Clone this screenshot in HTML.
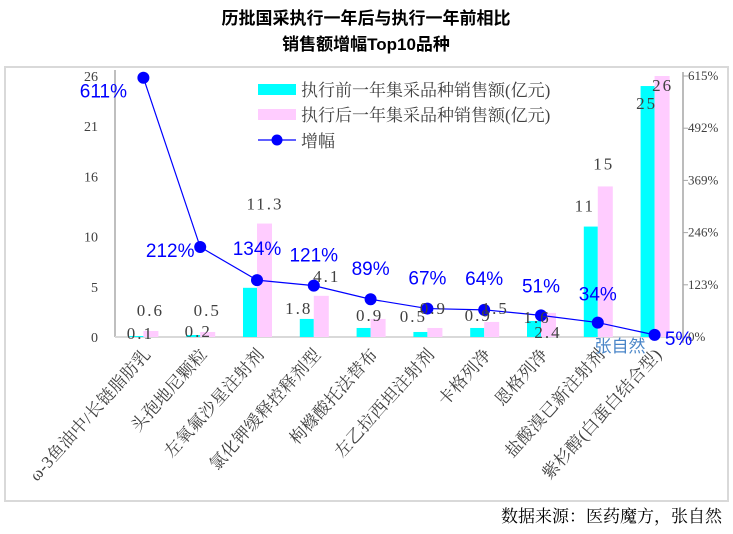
<!DOCTYPE html>
<html><head><meta charset="utf-8"><style>
body{margin:0;background:#fff;}
svg{display:block;}
.serif{font-family:"Liberation Serif","Noto Serif CJK SC",serif;}
.sans{font-family:"Liberation Sans","Noto Sans CJK SC",sans-serif;}
</style></head><body>
<svg id="chart" width="733" height="534" viewBox="0 0 733 534">
<rect x="5" y="67" width="723" height="434" fill="#fff" stroke="#d9d9d9" stroke-width="2"/>
<text x="366" y="24" text-anchor="middle" class="sans" font-size="17" font-weight="bold" fill="#000">历批国采执行一年后与执行一年前相比</text>
<text x="366" y="50" text-anchor="middle" class="sans" font-size="17" font-weight="bold" fill="#000">销售额增幅Top10品种</text>
<g id="axes"></g>
<g id="bars"></g>
<g id="line"></g>
<g id="labels"></g>
<g>
<rect x="258" y="84" width="38" height="11" fill="#00ffff"/>
<text x="301" y="96" class="serif" font-size="17" fill="#404040">执行前一年集采品种销售额(亿元)</text>
<rect x="258" y="109" width="38" height="11" fill="#ffccff"/>
<text x="301" y="121" class="serif" font-size="17" fill="#404040">执行后一年集采品种销售额(亿元)</text>
<line x1="258" y1="140" x2="296" y2="140" stroke="#0000ff" stroke-width="1.2"/>
<circle cx="277" cy="140" r="5.5" fill="#0000ff"/>
<text x="301" y="147" class="serif" font-size="17" fill="#404040">增幅</text>
</g>
<text x="620" y="352" text-anchor="middle" class="sans" font-size="17" fill="#4a86c8">张自然</text>
<text x="722" y="522" text-anchor="end" class="serif" font-size="17" fill="#000">数据来源：医药魔方，张自然</text>
</svg>
<script>
const categories=["ω-3鱼油中/长链脂肪乳","头孢地尼颗粒","左氧氟沙星注射剂","氯化钾缓释控释剂型","枸橼酸托法替布","左乙拉西坦注射剂","卡格列净","恩格列净","盐酸溴已新注射剂","紫杉醇(白蛋白结合型)"];
const beforeValues=[0.1,0.2,4.9,1.8,0.9,0.5,0.9,1.6,11,25];
const afterValues=[0.6,0.5,11.3,4.1,1.8,0.9,1.5,2.4,15,26];
const growthValues=[611,212,134,121,89,67,64,51,34,5];
const leftTicks=[0,5,10,16,21,26];
const rightTicks=[0,123,246,369,492,615];
const beforeLabels=["0.1","0.2","","1.8","0.9","0.5","0.9","1.6","11","25"];
const afterLabels=["0.6","0.5","11.3","4.1","","0.9","1.5","2.4","15","26"];
const growthLabels=["611%","212%","134%","121%","89%","67%","64%","51%","34%","5%"];
// layout offsets (pixels) for labels
const beforeOff=[[4,9],[5,8],[0,0],[-8,1],[6,-1],[-7,-4],[1,-1],[3,8],[-6,-9],[-1,29]];
const afterOff=[[-1,-9],[-1,-10],[0,-8],[5,-8],[0,0],[-2,-8],[3,-2],[-1,31],[-2,-11],[0,21]];
const growthOff=[[-40,20],[-30,10],[0,-25],[0,-24],[0,-24],[0,-24],[0,-25],[0,-23],[0,-22],[24,10]];

const NS="http://www.w3.org/2000/svg";
const X0=115,X1=683,Y0=337,Y1=76;
const band=(X1-X0)/categories.length;
const xc=i=>X0+band*(i+0.5);
const yL=v=>Y0-(v/26)*(Y0-Y1);
const yR=v=>Y0-(v/615)*(Y0-Y1);
function mk(tag,attrs,parent){const e=document.createElementNS(NS,tag);for(const k in attrs)e.setAttribute(k,attrs[k]);parent.appendChild(e);return e;}
const axes=document.getElementById('axes'),bars=document.getElementById('bars'),line=document.getElementById('line'),labels=document.getElementById('labels');
let e=mk('line',{x1:X0,y1:Y1-6,x2:X0,y2:Y0,stroke:'#bfbfbf','stroke-width':2},axes);


e=mk('line',{x1:X0,y1:Y0,x2:X1,y2:Y0,stroke:'#d9d9d9','stroke-width':2},axes);


e=mk('line',{x1:X1,y1:Y1-4,x2:X1,y2:Y0+6,stroke:'#a6a6a6','stroke-width':1.5},axes);


leftTicks.forEach(t=>{
  const tx=mk('text',{x:98,y:yL(t)+5,'text-anchor':'end','font-size':14,fill:'#404040',class:'serif'},axes);
  tx.textContent=t;
  
  
});
rightTicks.forEach(t=>{
  const tk=mk('line',{x1:X1,y1:yR(t),x2:X1+5,y2:yR(t),stroke:'#a6a6a6'},axes);
  
  
  const tx=mk('text',{x:X1+5,y:yR(t)+4,'font-size':13,fill:'#404040',class:'serif'},axes);
  tx.textContent=t+'%';
  
  
});
categories.forEach((c,i)=>{
  const x=xc(i);
  const b=mk('rect',{x:x-14,y:yL(beforeValues[i]),width:14,height:Y0-yL(beforeValues[i]),fill:'#00ffff'},bars);
  
  
  const a=mk('rect',{x:x,y:yL(afterValues[i]),width:15,height:Y0-yL(afterValues[i]),fill:'#ffccff'},bars);
  
  
  const t=mk('text',{x:0,y:0,'text-anchor':'end','font-size':17,'letter-spacing':0.4,fill:'#404040',class:'serif',transform:`translate(${x+8},${Y0+18}) rotate(-48)`},labels);
  t.textContent=c;
  
  
});
const pts=growthValues.map((g,i)=>[xc(i),yR(g)]);
const pl=mk('polyline',{points:pts.map(p=>p.join(',')).join(' '),fill:'none',stroke:'#0000ff','stroke-width':1.2},line);


pts.forEach((p,i)=>{
  const c=mk('circle',{cx:p[0],cy:p[1],r:6,fill:'#0000ff'},line);
  
  
});
categories.forEach((c,i)=>{
  const x=xc(i);
  if(beforeLabels[i]){
    const t=mk('text',{x:x-7+beforeOff[i][0],y:yL(beforeValues[i])-6+beforeOff[i][1],'text-anchor':'middle','font-size':17,'letter-spacing':2,fill:'#404040',class:'serif'},labels);
    t.textContent=beforeLabels[i];
    
    
  }
  if(afterLabels[i]){
    const t=mk('text',{x:x+8+afterOff[i][0],y:yL(afterValues[i])-6+afterOff[i][1],'text-anchor':'middle','font-size':17,'letter-spacing':2,fill:'#404040',class:'serif'},labels);
    t.textContent=afterLabels[i];
    
    
  }
  const g=mk('text',{x:pts[i][0]+growthOff[i][0],y:pts[i][1]+growthOff[i][1],'text-anchor':'middle','font-size':19,fill:'#0000ff',class:'sans'},labels);
  g.textContent=growthLabels[i];
  
  
});
</script>
</body></html>
